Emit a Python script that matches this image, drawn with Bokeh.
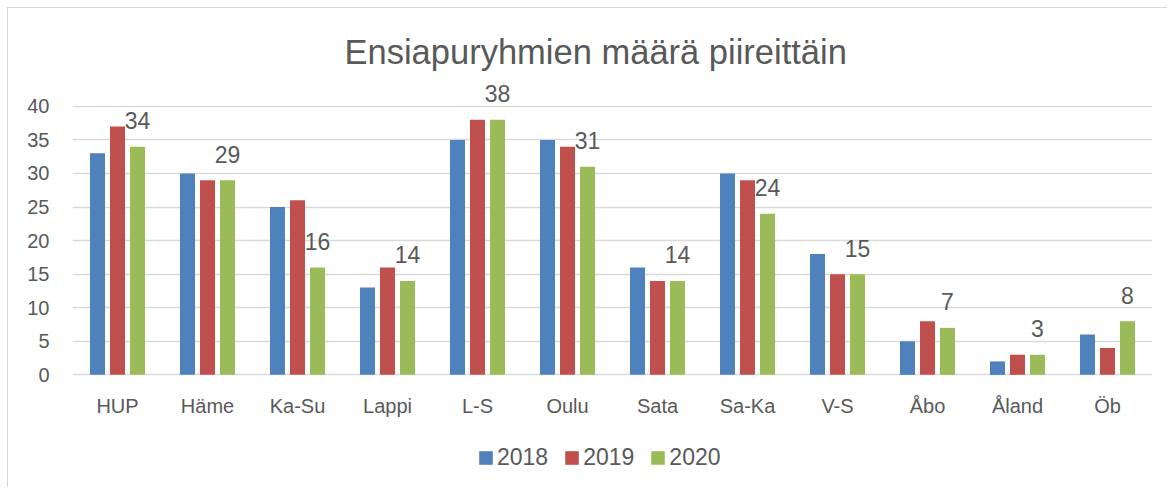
from bokeh.plotting import figure
from bokeh.models import FactorRange, FixedTicker, Legend, LegendItem, ColumnDataSource
from bokeh.transform import dodge
from bokeh.core.properties import value
from bokeh.embed import file_html
from bokeh.resources import INLINE

categories = ["HUP", "Häme", "Ka-Su", "Lappi", "L-S", "Oulu", "Sata", "Sa-Ka", "V-S", "Åbo", "Åland", "Öb"]
v2018 = [33, 30, 25, 13, 35, 35, 16, 30, 18, 5, 2, 6]
v2019 = [37, 29, 26, 16, 38, 34, 14, 29, 15, 8, 3, 4]
v2020 = [34, 29, 16, 14, 38, 31, 14, 24, 15, 7, 3, 8]
years = ["2018", "2019", "2020"]
colors = ["#4F81BD", "#C0504D", "#9BBB59"]
y_ticks = [0, 5, 10, 15, 20, 25, 30, 35, 40]

TXT = "#595959"
SANS = "Liberation Sans"

src = ColumnDataSource(dict(cat=categories, a=v2018, b=v2019, c=v2020,
                            lab=[str(v) for v in v2020], zero=[0] * len(categories)))

# y range extends below 0 to leave room (inside the frame) for category labels and legend
p = figure(x_range=FactorRange(*categories), y_range=(-16.93, 44),
           width=1160, height=480, output_backend="svg", toolbar_location=None,
           min_border_left=64, min_border_right=16, min_border_top=71, min_border_bottom=0,
           title="Ensiapuryhmien määrä piireittäin")
p.styles = {"border-top": "1px solid #d9d9d9", "border-left": "1px solid #d9d9d9",
            "margin-left": "7px", "margin-top": "7px"}

p.title.align = "left"
p.title.offset = 272
p.title.text_font = SANS
p.title.text_font_size = "34.5px"
p.title.text_font_style = "normal"
p.title.text_color = TXT
p.title.standoff = 18

p.outline_line_color = None
p.background_fill_color = "white"
p.border_fill_color = "white"

off = 0.2222
bw = 0.1667
renderers = []
for field, o, col in zip(["a", "b", "c"], [-off, 0, off], colors):
    r = p.vbar(x=dodge("cat", o, range=p.x_range), top=field, width=bw, source=src,
               fill_color=col, line_color=None)
    renderers.append(r)

# data labels for 2020
p.text(x=dodge("cat", off, range=p.x_range), y="c", text="lab", source=src,
       text_align="center", text_baseline="alphabetic", y_offset=-26,
       text_font=value(SANS), text_font_size="23px", text_color=TXT)

# category labels under the baseline
p.text(x="cat", y="zero", text="cat", source=src,
       text_align="center", text_baseline="alphabetic", y_offset=31,
       text_font=value(SANS), text_font_size="20px", text_color=TXT)

p.xaxis.visible = False

p.yaxis.ticker = FixedTicker(ticks=y_ticks)
p.yaxis.axis_line_color = None
p.yaxis.major_tick_line_color = None
p.yaxis.major_tick_out = 0
p.yaxis.minor_tick_line_color = None
p.yaxis.major_label_standoff = 23
p.yaxis.major_label_text_font = SANS
p.yaxis.major_label_text_font_size = "20px"
p.yaxis.major_label_text_color = TXT

p.xgrid.grid_line_color = None
p.ygrid.grid_line_color = "#d9d9d9"
p.ygrid.grid_line_width = 1.5
p.ygrid.ticker = FixedTicker(ticks=y_ticks)

legend = Legend(items=[LegendItem(label=y, renderers=[r]) for y, r in zip(years, renderers)],
                orientation="horizontal", location=(405, 17),
                glyph_width=17, glyph_height=17, label_standoff=3, spacing=15,
                padding=0, margin=0, border_line_color=None, background_fill_alpha=0,
                label_text_font=SANS, label_text_font_size="23px", label_text_color=TXT,
                label_height=26)
p.add_layout(legend, "center")

open("out.html", "w").write(file_html(p, INLINE))
